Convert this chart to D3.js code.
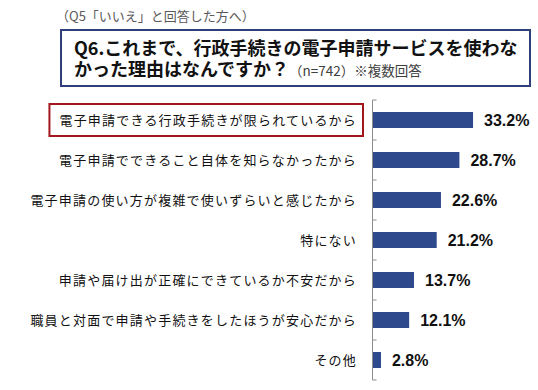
<!DOCTYPE html>
<html>
<head>
<meta charset="utf-8">
<script src="https://cdn.jsdelivr.net/npm/d3@7"></script>
<style>
  body { margin: 0; background: #fff; }
  svg { display: block; }
</style>
</head>
<body>
<script>
// data
var reasons = [
    "電子申請できる行政手続きが限られているから",
    "電子申請でできること自体を知らなかったから",
    "電子申請の使い方が複雑で使いずらいと感じたから",
    "特にない",
    "申請や届け出が正確にできているか不安だから",
    "職員と対面で申請や手続きをしたほうが安心だから",
    "その他"
];
var percents = [33.2, 28.7, 22.6, 21.2, 13.7, 12.1, 2.8];

var w = 538, h = 390;
var jp = "'Noto Sans CJK JP', 'Noto Sans', sans-serif";

var svg = d3.select("body").append("svg")
    .attr("width", w)
    .attr("height", h);

// header
svg.append("text")
    .text("（Q5「いいえ」と回答した方へ）")
    .attr("x", 56).attr("y", 21)
    .attr("font-family", jp).attr("font-size", "13px").attr("fill", "#595959");

svg.append("rect")
    .attr("x", 61).attr("y", 30)
    .attr("width", 469).attr("height", 56)
    .attr("fill", "#fff").attr("stroke", "#2f3f7c").attr("stroke-width", 2);

svg.append("text")
    .text("Q6.これまで、行政手続きの電子申請サービスを使わな")
    .attr("x", 74).attr("y", 55)
    .attr("font-family", jp).attr("font-size", "18px").attr("font-weight", "bold").attr("fill", "#111");

var line2 = svg.append("text")
    .attr("x", 74).attr("y", 76)
    .attr("font-family", jp).attr("fill", "#111");
line2.append("tspan").text("かった理由はなんですか？")
    .attr("font-size", "18px").attr("font-weight", "bold");
line2.append("tspan").text("（n=742）※複数回答")
    .attr("font-size", "13.5px").attr("fill", "#404040");

// scales
var axisX = 372.5;
var x = d3.scaleLinear()
    .domain([0, 35])
    .range([axisX, axisX + 106]);

var y = d3.scaleBand()
    .domain(reasons)
    .range([100, 380])
    .paddingInner(0.6)
    .paddingOuter(0.3);

// bars
svg.selectAll("rect.bar")
    .data(percents).enter().append("rect")
    .attr("class", "bar")
    .attr("x", x(0))
    .attr("y", function(d, i) { return y(reasons[i]); })
    .attr("width", function(d) { return x(d) - x(0); })
    .attr("height", y.bandwidth())
    .attr("fill", "#2e4a8d");

// value labels
svg.selectAll("text.val")
    .data(percents).enter().append("text")
    .attr("class", "val")
    .text(function(d) { return d.toFixed(1) + "%"; })
    .attr("x", function(d) { return x(d) + 11; })
    .attr("y", function(d, i) { return y(reasons[i]) + y.bandwidth() / 2; })
    .attr("dy", "0.36em")
    .attr("font-family", "'Liberation Sans', Arial, sans-serif")
    .attr("font-size", "16px").attr("font-weight", "bold").attr("fill", "#111");

// category labels
var labels = svg.selectAll("text.cat")
    .data(reasons).enter().append("text")
    .attr("class", "cat")
    .text(function(d) { return d; })
    .attr("x", 357)
    .attr("y", function(d) { return y(d) + y.bandwidth() / 2; })
    .attr("dy", "0.36em")
    .attr("text-anchor", "end")
    .attr("font-family", jp).attr("font-size", "13px").attr("fill", "#111")
    .style("letter-spacing", "1.2px");

// axis line with ticks on band edges
var edges = d3.range(reasons.length + 1).map(function(i) {
    return y.range()[0] + i * y.step();
});
svg.append("line")
    .attr("x1", axisX).attr("x2", axisX)
    .attr("y1", edges[0]).attr("y2", edges[edges.length - 1])
    .attr("stroke", "#8c8c8c").attr("stroke-width", 1);
svg.selectAll("line.tick")
    .data(edges).enter().append("line")
    .attr("class", "tick")
    .attr("x1", axisX).attr("x2", axisX + 4)
    .attr("y1", function(d) { return d; }).attr("y2", function(d) { return d; })
    .attr("stroke", "#8c8c8c").attr("stroke-width", 1);

// red highlight box round first label
var bb = labels.nodes()[0].getBBox();
var c0 = y(reasons[0]) + y.bandwidth() / 2;
svg.append("rect")
    .attr("x", bb.x - 10)
    .attr("y", c0 - 16)
    .attr("width", 363 - (bb.x - 10))
    .attr("height", 32)
    .attr("fill", "none").attr("stroke", "#a3171c").attr("stroke-width", 2);
</script>
</body>
</html>
